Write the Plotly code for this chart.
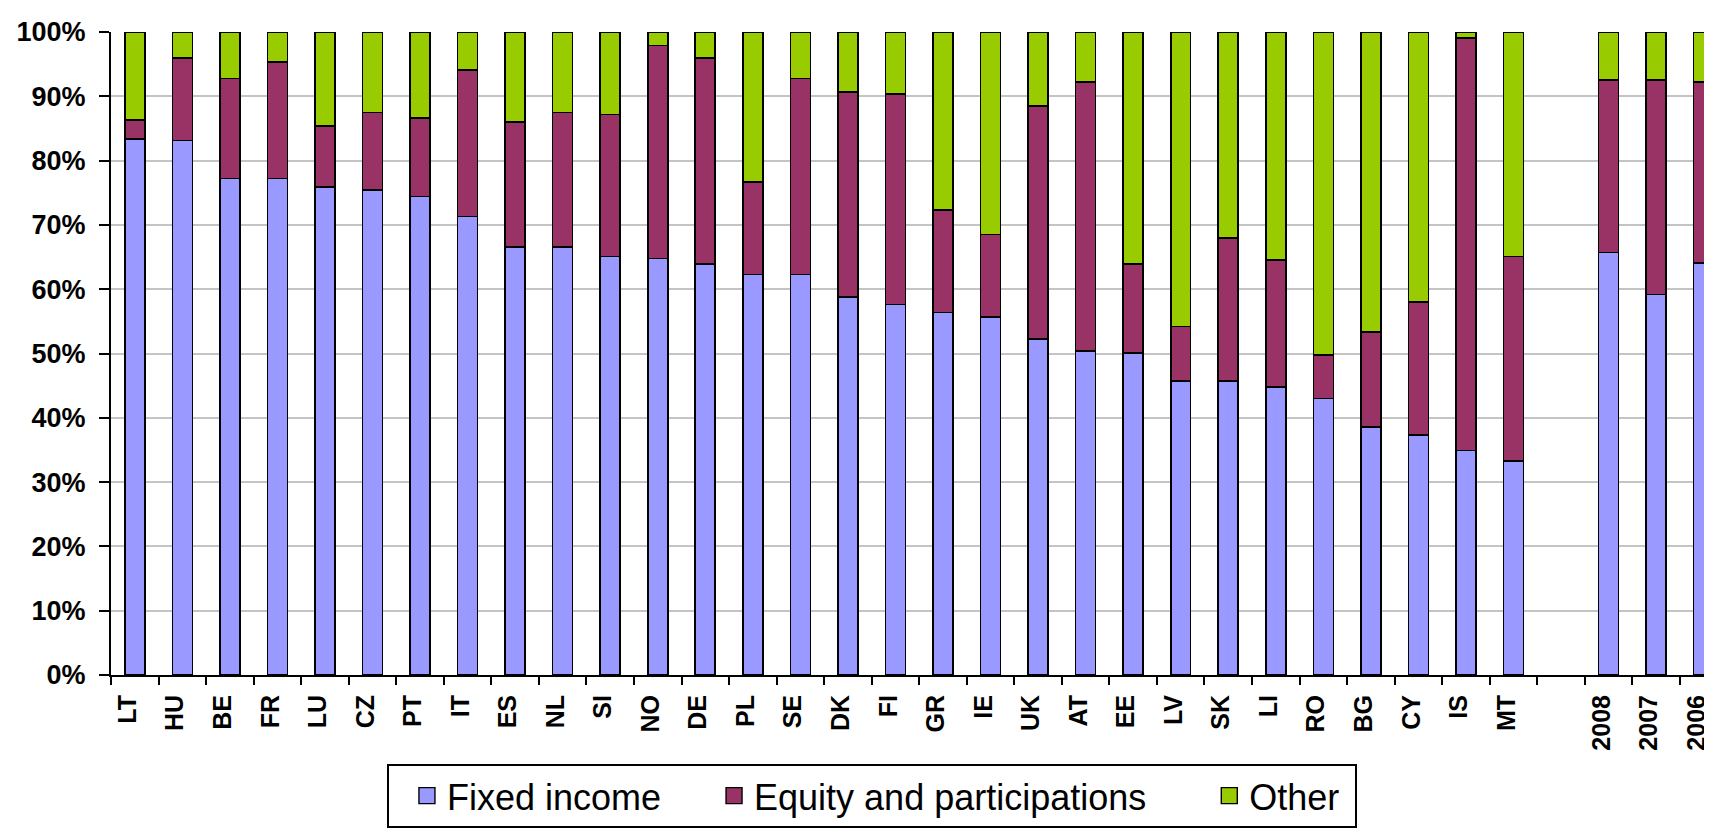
import plotly.graph_objects as go

countries = ["LT", "HU", "BE", "FR", "LU", "CZ", "PT", "IT", "ES", "NL", "SI", "NO", "DE", "PL", "SE",
             "DK", "FI", "GR", "IE", "UK", "AT", "EE", "LV", "SK", "LI", "RO", "BG", "CY", "IS", "MT"]
gap_label = [" "]
years = ["2008", "2007", "2006"]

fixed_income_countries = [83.4, 83.1, 77.2, 77.2, 75.9, 75.4, 74.4, 71.3, 66.6, 66.6, 65.1, 64.8, 63.9, 62.3, 62.3,
                          58.8, 57.6, 56.4, 55.7, 52.3, 50.4, 50.1, 45.7, 45.7, 44.8, 43.0, 38.6, 37.3, 34.9, 33.3]
equity_countries = [2.9, 12.9, 15.6, 18.1, 9.5, 12.1, 12.2, 22.8, 19.4, 20.9, 22.1, 33.1, 32.1, 14.4, 30.5,
                    31.9, 32.8, 15.9, 12.8, 36.2, 41.8, 13.8, 8.5, 22.3, 19.7, 6.8, 14.7, 20.7, 64.2, 31.8]
other_countries = [13.7, 4.0, 7.2, 4.7, 14.6, 12.5, 13.4, 5.9, 14.0, 12.5, 12.8, 2.1, 4.0, 23.3, 7.2,
                   9.3, 9.6, 27.7, 31.5, 11.5, 7.8, 36.1, 45.8, 32.0, 35.5, 50.2, 46.7, 42.0, 0.9, 34.9]

fixed_income_years = [65.7, 59.2, 64.1]
equity_years = [26.8, 33.3, 28.1]
other_years = [7.5, 7.5, 7.8]

series_names = ["Fixed income", "Equity and participations", "Other"]
series_colors = ["#9999FF", "#993366", "#99CC00"]

categories = countries + gap_label + years
fixed_income = fixed_income_countries + [None] + fixed_income_years
equity = equity_countries + [None] + equity_years
other = other_countries + [None] + other_years
series_values = [fixed_income, equity, other]

# trailing non-breaking spaces only widen the gaps between legend entries
legend_pad = ["\u00a0" * 3, "\u00a0" * 4, "\u00a0"]

FONT = "Liberation Sans, Arial, sans-serif"

fig = go.Figure()
for name, vals, color in zip(series_names, series_values, series_colors):
    fig.add_trace(go.Bar(
        x=categories, y=vals, name=name,
        marker=dict(color=color, line=dict(color="black", width=1.6)),
        showlegend=False,
    ))
# legend entries with larger square swatches
for name, color, pad in zip(series_names, series_colors, legend_pad):
    fig.add_trace(go.Scatter(
        x=[None], y=[None], mode="markers", name=name + pad,
        marker=dict(symbol="square", size=20, color=color, line=dict(color="black", width=1.4)),
        showlegend=True, hoverinfo="skip",
    ))

fig.update_layout(
    width=1712, height=828,
    barmode="stack", bargap=0.58,
    plot_bgcolor="white", paper_bgcolor="white",
    margin=dict(l=103, r=0, t=24, b=161),
    font=dict(family=FONT, color="black"),
    legend=dict(
        orientation="h", traceorder="normal",
        x=0.1715, xanchor="left", y=-0.138, yanchor="top",
        bordercolor="black", borderwidth=2, bgcolor="white",
        font=dict(family=FONT, size=36, color="black"),
        itemsizing="trace", indentation=18,
    ),
)
fig.update_xaxes(
    type="category", categoryorder="array", categoryarray=categories,
    range=[-0.5, 33.344],
    showline=True, linecolor="black", linewidth=2,
    ticks="outside", tickson="boundaries", ticklen=8, tickwidth=1.5, tickcolor="black",
    tickangle=-90, tickfont=dict(family=FONT, size=25, color="black", weight="bold"),
    ticklabelstandoff=8, ticklabelshift=-7, ticklabeloverflow="allow",
    showgrid=False,
)
fig.update_yaxes(
    range=[0, 100], dtick=10, ticksuffix="%",
    showline=True, linecolor="black", linewidth=2,
    ticks="outside", ticklen=10, tickwidth=1.5, tickcolor="black",
    tickfont=dict(family=FONT, size=27, color="black", weight="bold"),
    ticklabelstandoff=8,
    showgrid=True, gridcolor="#c4c4c4", gridwidth=1.5,
    zeroline=False,
)

fig.write_html("out.html")
